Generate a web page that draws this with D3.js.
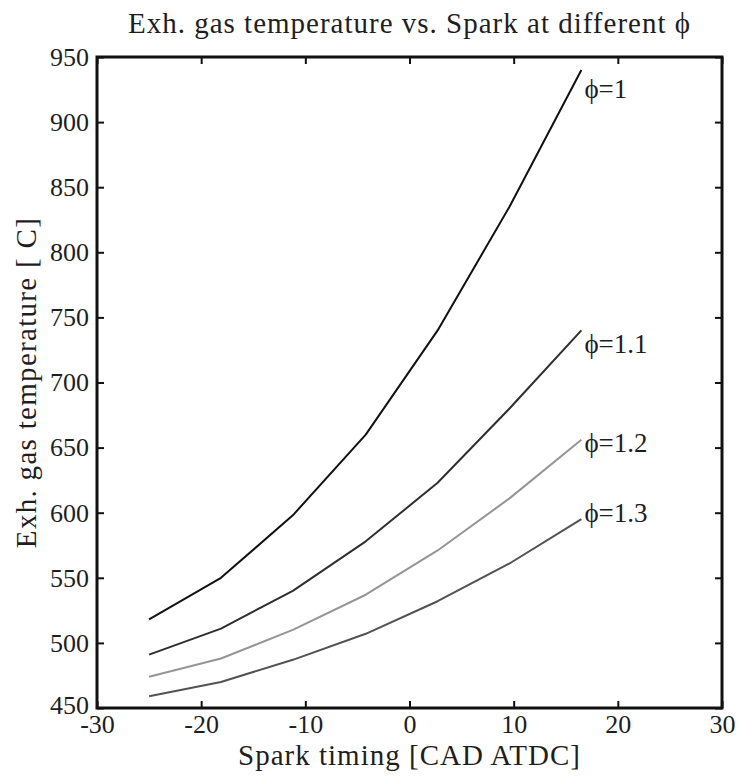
<!DOCTYPE html>
<html>
<head>
<meta charset="utf-8">
<script src="https://cdn.jsdelivr.net/npm/d3@7/dist/d3.min.js"></script>
<style>
  html, body { margin: 0; padding: 0; background: #fff; }
  svg { display: block; }
  text { font-family: "Liberation Serif", "DejaVu Serif", serif; fill: #1e1e1e; }
</style>
</head>
<body>
<svg id="chart" width="739" height="780"></svg>
<script>
// ---- data ----
const sparkTiming = [-25, -18.1, -11.2, -4.2, 2.7, 9.6, 16.5];
const seriesNames = ["ϕ=1", "ϕ=1.1", "ϕ=1.2", "ϕ=1.3"];
const phi10 = [518, 550, 598, 660, 740, 835, 940];
const phi11 = [491, 511, 540, 578, 623, 680, 740];
const phi12 = [474, 488, 510, 537, 571, 611, 656];
const phi13 = [459, 470, 487, 507, 532, 561, 595];
const labelValues = [926, 730, 654, 600];   // annotation anchor (data units)
const xTicks = [-30, -20, -10, 0, 10, 20, 30];
const yTicks = [450, 500, 550, 600, 650, 700, 750, 800, 850, 900, 950];
const colors = ["#111111", "#2e2e2e", "#959595", "#525252"];

const seriesValues = [phi10, phi11, phi12, phi13];

const svg = d3.select("#chart");
const m = { left: 97, right: 722, top: 57, bottom: 708 };

const x = d3.scaleLinear().domain([-30, 30]).range([m.left, m.right]);
const y = d3.scaleLinear().domain([450, 950]).range([m.bottom, m.top]);

// lines
const line = d3.line().x(d => x(d[0])).y(d => y(d[1]));
seriesValues.forEach((vals, i) => {
  const pts = sparkTiming.map((t, j) => [t, vals[j]]);
  svg.append("path")
    .attr("d", line(pts))
    .attr("fill", "none")
    .attr("stroke", colors[i])
    .attr("stroke-width", 2)
    .attr("stroke-linejoin", "round");
  svg.append("text")
    .attr("x", x(sparkTiming[sparkTiming.length - 1]) + 3)
    .attr("y", y(labelValues[i]))
    .attr("dy", "0.35em")
    .attr("font-size", 27)
    .text(seriesNames[i]);
});

// axes (inward ticks, box)
const tickLen = 7;
const axB = d3.axisBottom(x).tickValues(xTicks).tickSize(-tickLen).tickPadding(8).tickFormat(d => String(d));
const axT = d3.axisTop(x).tickValues(xTicks).tickSize(-tickLen).tickFormat("");
const axL = d3.axisLeft(y).tickValues(yTicks).tickSize(-tickLen).tickPadding(8).tickFormat(d => String(d));
const axR = d3.axisRight(y).tickValues(yTicks).tickSize(-tickLen).tickFormat("");

function style(g) {
  g.select(".domain").remove();
  g.selectAll(".tick line").attr("stroke", "#111").attr("stroke-width", 2);
  g.selectAll(".tick text").attr("fill", "#1e1e1e").attr("font-size", 26)
    .attr("font-family", "Liberation Serif, serif");
}
svg.append("g").attr("transform", `translate(0,${m.bottom})`).call(axB).call(style)
  .selectAll(".tick text").attr("dy", "0.65em");
svg.append("g").attr("transform", `translate(0,${m.top})`).call(axT).call(style);
const gL = svg.append("g").attr("transform", `translate(${m.left},0)`).call(axL).call(style);
// lowest label sits in the corner just above the x labels
gL.selectAll(".tick text").filter(d => d === yTicks[0]).attr("dy", "0.2em");
svg.append("g").attr("transform", `translate(${m.right},0)`).call(axR).call(style);

svg.append("rect")
  .attr("x", m.left).attr("y", m.top)
  .attr("width", m.right - m.left).attr("height", m.bottom - m.top)
  .attr("fill", "none").attr("stroke", "#111").attr("stroke-width", 3);

// titles
svg.append("text")
  .attr("x", (m.left + m.right) / 2).attr("y", 33)
  .attr("text-anchor", "middle").attr("font-size", 29)
  .attr("letter-spacing", 1)
  .text("Exh. gas temperature vs. Spark at different ϕ");
svg.append("text")
  .attr("x", (m.left + m.right) / 2).attr("y", 765)
  .attr("text-anchor", "middle").attr("font-size", 29)
  .attr("letter-spacing", 1)
  .text("Spark timing [CAD ATDC]");
svg.append("text")
  .attr("transform", `translate(36,${(m.top + m.bottom) / 2}) rotate(-90)`)
  .attr("text-anchor", "middle").attr("font-size", 29)
  .attr("letter-spacing", 1.3)
  .text("Exh. gas temperature [ C]");
</script>
</body>
</html>
